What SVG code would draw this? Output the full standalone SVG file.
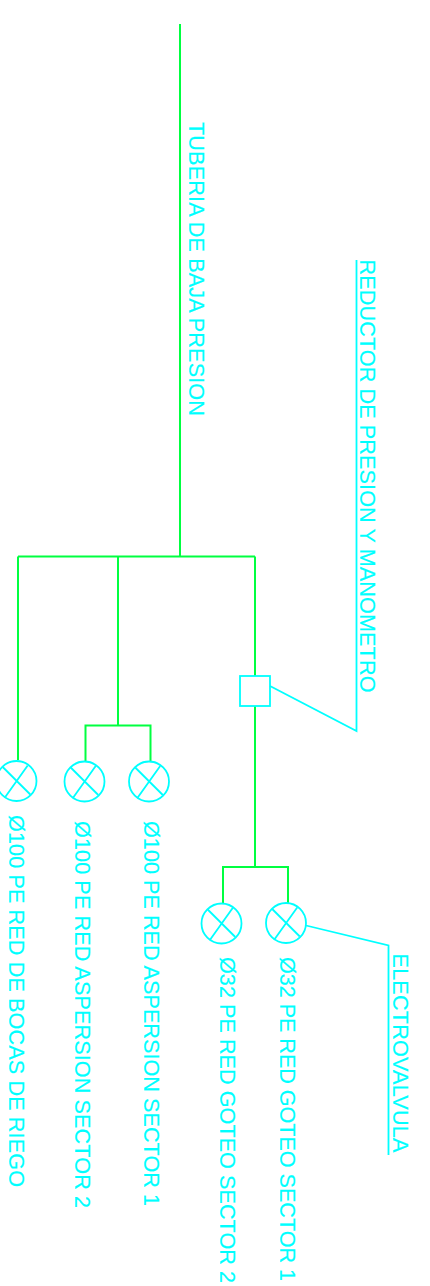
<svg xmlns="http://www.w3.org/2000/svg" width="430" height="1286" viewBox="0 0 430 1286">
<style>
.g{fill:none;stroke:#00ff40;stroke-width:2}
.c{fill:none;stroke:#00ffff;stroke-width:1.8}
text{fill:#00ffff;stroke:#00ffff;stroke-width:.15;font-family:"Liberation Sans",Arial,sans-serif;font-size:21.7px}
</style>
<defs>
<g id="valve"><circle class="c" r="20"/><path class="c" d="M-13.8-14L13.8 13.5M11.2-15.5L-11.8 16.8"/></g>
</defs>
<rect width="430" height="1286" fill="#fff"/>
<g id="connectors">
<path class="g" d="M180 24V556.5M18 556.5H255M18 556.5V760M118 556.5V725.5M255 556.5V676M85.5 761V725.5H150.5V761M255 706V867M223 903V867H288V903"/>
<path class="c" d="M270 686L356.5 731V260"/>
<path class="c" d="M306 925.5L388.5 945.5V1155"/>
</g>
<g id="reductor"><rect class="c" x="240" y="676" width="30" height="30"/></g>
<g id="valve-bocas"><use href="#valve" x="16.5" y="781"/></g>
<g id="valve-asp2"><use href="#valve" x="84.5" y="781.5"/></g>
<g id="valve-asp1"><use href="#valve" x="149" y="781.5"/></g>
<g id="valve-got2"><use href="#valve" x="221.5" y="923.5"/></g>
<g id="valve-got1"><use href="#valve" x="286" y="923"/></g>
<g id="labels">
<text transform="translate(188.5 122) rotate(90)" textLength="294">TUBERIA DE BAJA PRESION</text>
<text transform="translate(360 259.5) rotate(90)" textLength="433">REDUCTOR DE PRESION Y MANOMETRO</text>
<text transform="translate(9 815) rotate(90)" textLength="372">Ø100 PE RED DE BOCAS DE RIEGO</text>
<text transform="translate(75 821) rotate(90)" textLength="387">Ø100 PE RED ASPERSION SECTOR 2</text>
<text transform="translate(144 821) rotate(90)" textLength="385">Ø100 PE RED ASPERSION SECTOR 1</text>
<text transform="translate(219.5 957) rotate(90)" textLength="326">Ø32 PE RED GOTEO SECTOR 2</text>
<text transform="translate(279.5 957) rotate(90)" textLength="324">Ø32 PE RED GOTEO SECTOR 1</text>
<text transform="translate(393 953.5) rotate(90)" textLength="199">ELECTROVALVULA</text>
</g>
</svg>
